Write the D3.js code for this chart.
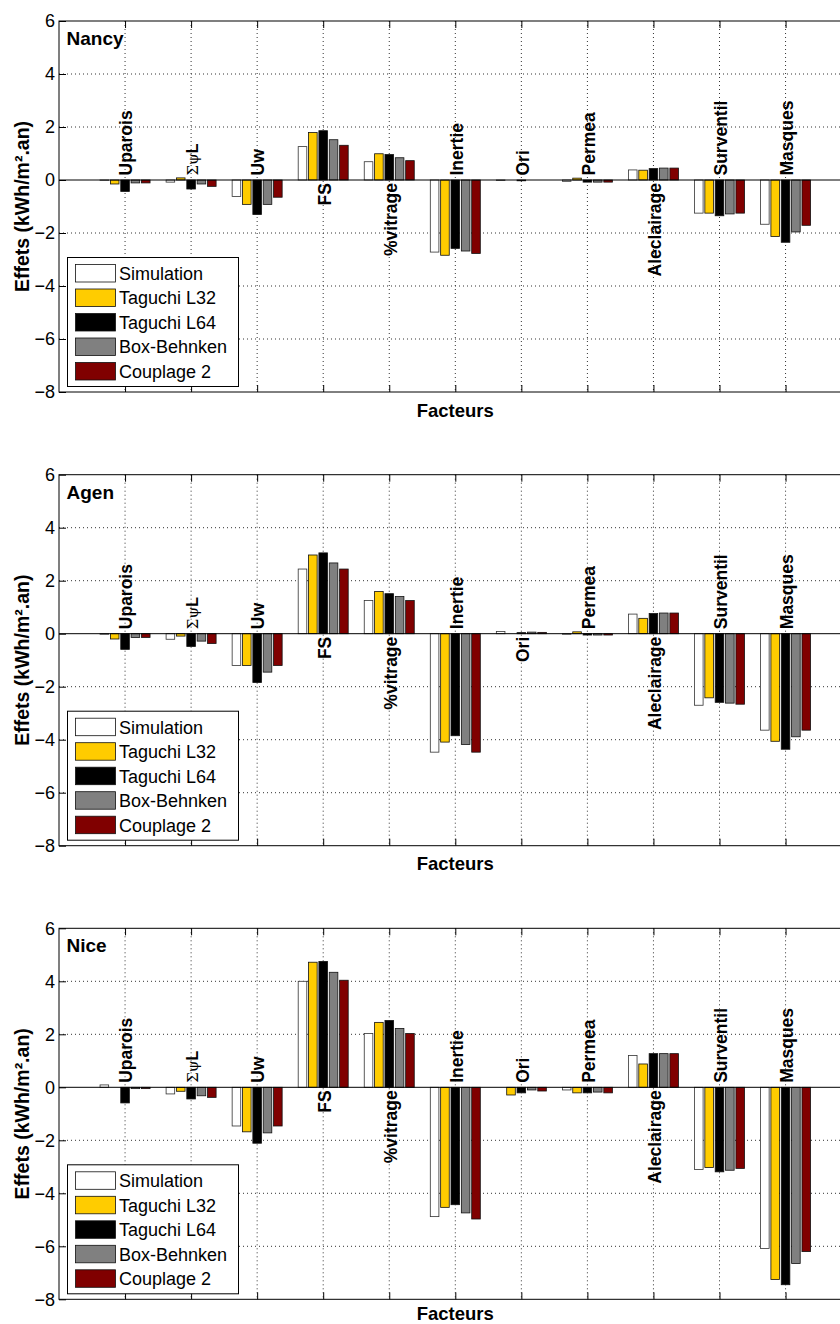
<!DOCTYPE html>
<html>
<head>
<meta charset="utf-8">
<script src="https://cdn.jsdelivr.net/npm/d3@7"></script>
<style>
  html, body { margin: 0; padding: 0; background: #fff; }
  svg { display: block; font-family: "Liberation Sans", Arial, sans-serif; }
</style>
</head>
<body>
<svg id="chart" width="840" height="1324"></svg>
<script>
// ---------- DATA ----------
const factors = ["Uparois", "\u03A3\u03C8L", "Uw", "FS", "%vitrage", "Inertie", "Ori", "Permea", "Aleclairage", "Surventil", "Masques"];
const series = ["Simulation", "Taguchi L32", "Taguchi L64", "Box-Behnken", "Couplage 2"];
const cities = ["Nancy", "Agen", "Nice"];
const yTicks = [-8, -6, -4, -2, 0, 2, 4, 6];

// values per series (rows) for each factor (columns)
const nancy = [
  [-0.01, -0.08, -0.62, 1.26, 0.69, -2.72, -0.02, -0.05, 0.38, -1.25, -1.67],
  [-0.15,  0.08, -0.92, 1.79, 0.99, -2.84,  0.00,  0.07, 0.37, -1.25, -2.13],
  [-0.43, -0.34, -1.30, 1.86, 0.96, -2.58, -0.03, -0.08, 0.43, -1.35, -2.35],
  [-0.11, -0.15, -0.92, 1.52, 0.84, -2.68,  0.00, -0.08, 0.45, -1.28, -1.96],
  [-0.11, -0.24, -0.65, 1.31, 0.73, -2.77,  0.00, -0.08, 0.45, -1.25, -1.71]
];
const agen = [
  [-0.02, -0.21, -1.20, 2.44, 1.25, -4.47, 0.08, -0.02, 0.74, -2.70, -3.64],
  [-0.20, -0.09, -1.20, 2.97, 1.59, -4.09, 0.00,  0.07, 0.58, -2.42, -4.06],
  [-0.59, -0.48, -1.84, 3.05, 1.51, -3.85, 0.04, -0.05, 0.76, -2.59, -4.36],
  [-0.14, -0.28, -1.45, 2.67, 1.40, -4.18, 0.06, -0.05, 0.78, -2.62, -3.89],
  [-0.14, -0.37, -1.20, 2.44, 1.25, -4.47, 0.05, -0.05, 0.78, -2.66, -3.64]
];
const nice = [
  [ 0.09, -0.25, -1.46, 4.00, 2.03, -4.88,  0.00, -0.10, 1.20, -3.10, -6.08],
  [ 0.00, -0.15, -1.68, 4.72, 2.45, -4.53, -0.29, -0.21, 0.88, -3.03, -7.25],
  [-0.59, -0.44, -2.11, 4.75, 2.52, -4.43, -0.21, -0.21, 1.27, -3.19, -7.45],
  [-0.05, -0.32, -1.72, 4.34, 2.22, -4.74, -0.10, -0.18, 1.27, -3.13, -6.65],
  [-0.05, -0.38, -1.46, 4.04, 2.03, -4.97, -0.14, -0.21, 1.27, -3.06, -6.20]
];
const cityData = [nancy, agen, nice];

// ---------- STYLE ----------
const colors = ["#ffffff", "#ffcc00", "#000000", "#808080", "#800000"];
const FONT = '"Liberation Sans", Arial, sans-serif';

const svg = d3.select("#chart");
const left = 59, plotW = 792.6, plotH = 371;
const panelTops = [21, 474.7, 928.3];
const xLabelGap = [24.5, 24.5, 20.5];

const x = d3.scaleLinear().domain([0, factors.length + 1]).range([left, left + plotW]);
const inner = d3.scaleBand().domain(series).range([-25, 25]).paddingInner(0.17);

cities.forEach((city, ci) => {
  const top = panelTops[ci];
  const data = cityData[ci];
  const y = d3.scaleLinear().domain([-8, 6]).range([top + plotH, top]);
  const g = svg.append("g");

  g.append("rect").attr("x", left).attr("y", top).attr("width", plotW).attr("height", plotH)
    .attr("fill", "#fff");

  // grid
  g.append("g").selectAll("line").data(yTicks.filter(t => t !== 0 && t !== -8 && t !== 6))
    .join("line")
    .attr("x1", left).attr("x2", left + plotW)
    .attr("y1", d => y(d)).attr("y2", d => y(d))
    .attr("stroke", "#333").attr("stroke-width", 1).attr("stroke-dasharray", "1,3");
  g.append("g").selectAll("line").data(factors)
    .join("line")
    .attr("x1", (d, i) => x(i + 1)).attr("x2", (d, i) => x(i + 1))
    .attr("y1", top).attr("y2", top + plotH)
    .attr("stroke", "#333").attr("stroke-width", 1).attr("stroke-dasharray", "1,3");

  // bars
  series.forEach((s, si) => {
    g.append("g").selectAll("rect").data(data[si])
      .join("rect")
      .attr("x", (v, fi) => x(fi + 1) + inner(s))
      .attr("width", inner.bandwidth())
      .attr("y", v => Math.min(y(v), y(0)))
      .attr("height", v => Math.abs(y(v) - y(0)))
      .attr("fill", colors[si])
      .attr("stroke", si === 0 ? "#333" : "#111")
      .attr("stroke-width", 0.8);
  });

  // zero baseline
  g.append("line").attr("x1", left).attr("x2", left + plotW)
    .attr("y1", y(0)).attr("y2", y(0)).attr("stroke", "#000").attr("stroke-width", 1);

  // factor labels (rotated)
  factors.forEach((f, fi) => {
    const mean = d3.mean(data, row => row[fi]);
    const above = mean <= 0;
    const tx = x(fi + 1) + 1;
    const ty = above ? y(0) - 4.5 : y(0) + 3;
    const t = g.append("text")
      .attr("transform", `translate(${tx},${ty}) rotate(-90)`)
      .attr("text-anchor", above ? "start" : "end")
      .attr("dy", "0.36em")
      .attr("font-family", FONT).attr("font-weight", "bold").attr("font-size", 17.5)
      .attr("fill", "#000");
    if (f.startsWith("\u03A3")) {
      t.append("tspan").attr("font-weight", "normal").attr("font-family", '"DejaVu Serif", serif')
        .attr("font-size", 15).text(f.slice(0, 2));
      t.append("tspan").attr("font-size", 16).text(f.slice(2));
    } else {
      t.text(f);
    }
  });

  // axes
  const yAxis = d3.axisLeft(y).tickValues(yTicks).tickSize(-7).tickSizeOuter(0).tickPadding(4)
    .tickFormat(d3.format("d"));
  const ya = g.append("g").attr("transform", `translate(${left},0)`).call(yAxis);
  ya.select(".domain").remove();
  ya.selectAll("text").attr("font-family", FONT).attr("font-size", 18).attr("fill", "#000");
  ya.selectAll("line").attr("stroke", "#000");

  const xb = g.append("g").attr("transform", `translate(0,${top + plotH})`)
    .call(d3.axisBottom(x).tickValues(d3.range(1, factors.length + 1)).tickSize(-7).tickSizeOuter(0).tickFormat(""));
  xb.select(".domain").remove();
  xb.selectAll("line").attr("stroke", "#000");
  const xt = g.append("g").attr("transform", `translate(0,${top})`)
    .call(d3.axisTop(x).tickValues(d3.range(1, factors.length + 1)).tickSize(-7).tickSizeOuter(0).tickFormat(""));
  xt.select(".domain").remove();
  xt.selectAll("line").attr("stroke", "#000");

  // frame
  g.append("rect").attr("x", left).attr("y", top).attr("width", plotW).attr("height", plotH)
    .attr("fill", "none").attr("stroke", "#000").attr("stroke-width", 1);

  // city name
  g.append("text").attr("x", 66.5).attr("y", top + 24)
    .attr("font-family", FONT).attr("font-weight", "bold").attr("font-size", 19)
    .text(city);

  // y label
  g.append("text")
    .attr("transform", `translate(22,${top + plotH / 2}) rotate(-90)`)
    .attr("text-anchor", "middle").attr("dy", "0.36em")
    .attr("font-family", FONT).attr("font-weight", "bold").attr("font-size", 19.5)
    .text("Effets (kWh/m\u00B2.an)");

  // x label
  g.append("text").attr("x", x((factors.length + 1) / 2)).attr("y", top + plotH + xLabelGap[ci])
    .attr("text-anchor", "middle")
    .attr("font-family", FONT).attr("font-weight", "bold").attr("font-size", 18.5)
    .text("Facteurs");

  // legend
  const lx = 67.5, ly = top + 236.5;
  const lg = g.append("g");
  lg.append("rect").attr("x", lx).attr("y", ly).attr("width", 171).attr("height", 129)
    .attr("fill", "#fff").attr("stroke", "#000").attr("stroke-width", 1);
  series.forEach((s, si) => {
    const ey = ly + 7 + si * 24.5;
    lg.append("rect").attr("x", 75.5).attr("y", ey).attr("width", 40).attr("height", 17.5)
      .attr("fill", colors[si]).attr("stroke", "#111").attr("stroke-width", 0.8);
    lg.append("text").attr("x", 119).attr("y", ey + 9).attr("dy", "0.36em")
      .attr("font-family", FONT).attr("font-size", 18).attr("fill", "#000")
      .text(s);
  });
});
</script>
</body>
</html>
